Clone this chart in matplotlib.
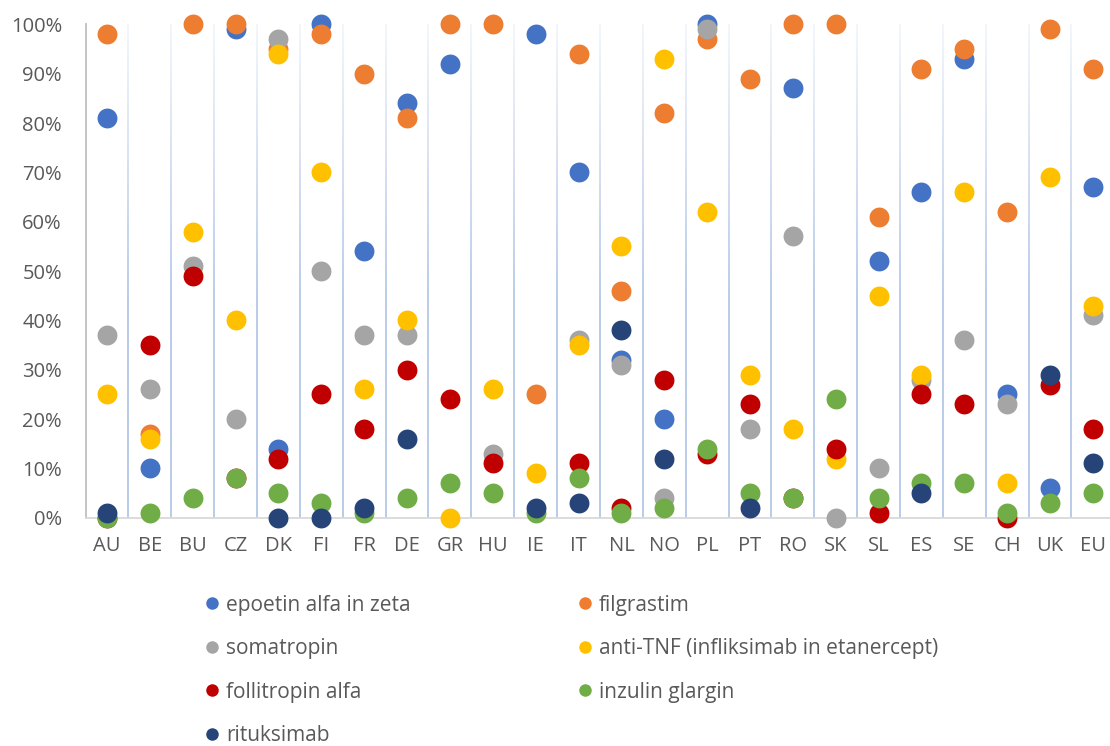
import numpy as np
import matplotlib
matplotlib.use("Agg")
import matplotlib.pyplot as plt
from matplotlib.collections import LineCollection
from matplotlib.lines import Line2D
from matplotlib.colors import to_rgb

plt.rcParams['font.family'] = ['Open Sans', 'DejaVu Sans']

# Delež po državah (v %), NaN = ni podatka
countries = ['AU', 'BE', 'BU', 'CZ', 'DK', 'FI', 'FR', 'DE', 'GR', 'HU', 'IE', 'IT',
             'NL', 'NO', 'PL', 'PT', 'RO', 'SK', 'SL', 'ES', 'SE', 'CH', 'UK', 'EU']
nan = np.nan

epoetin = [81, 10, nan, 99, 14, 100, 54, 84, 92, nan, 98, 70,
           32, 20, 100, nan, 87, nan, 52, 66, 93, 25, 6, 67]
filgrastim = [98, 17, 100, 100, 95, 98, 90, 81, 100, 100, 25, 94,
              46, 82, 97, 89, 100, 100, 61, 91, 95, 62, 99, 91]
somatropin = [37, 26, 51, 20, 97, 50, 37, 37, nan, 13, nan, 36,
              31, 4, 99, 18, 57, 0, 10, 28, 36, 23, nan, 41]
anti_tnf = [25, 16, 58, 40, 94, 70, 26, 40, 0, 26, 9, 35,
            55, 93, 62, 29, 18, 12, 45, 29, 66, 7, 69, 43]
follitropin = [0, 35, 49, 8, 12, 25, 18, 30, 24, 11, nan, 11,
               2, 28, 13, 23, 4, 14, 1, 25, 23, 0, 27, 18]
inzulin = [0, 1, 4, 8, 5, 3, 1, 4, 7, 5, 1, 8,
           1, 2, 14, 5, 4, 24, 4, 7, 7, 1, 3, 5]
rituksimab = [1, nan, nan, nan, 0, 0, 2, 16, nan, nan, 2, 3,
              38, 12, nan, 2, nan, nan, nan, 5, nan, nan, 29, 11]

series = [
    ('epoetin alfa in zeta', epoetin, '#4472C4'),
    ('filgrastim', filgrastim, '#ED7D31'),
    ('somatropin', somatropin, '#A5A5A5'),
    ('anti-TNF (infliksimab in etanercept)', anti_tnf, '#FFC000'),
    ('follitropin alfa', follitropin, '#C00000'),
    ('inzulin glargin', inzulin, '#70AD47'),
    ('rituksimab', rituksimab, '#264478'),
]

fig = plt.figure(figsize=(11.1, 7.46), dpi=100)
ax = fig.add_axes([0.0771, 0.3060, 0.9268, 0.6614])

x = np.arange(len(countries))
ax.set_xlim(-0.5, len(countries) - 0.5)
ax.set_ylim(0, 100)

# navpične mrežne črte med državami, proti vrhu bledijo
light = np.array(to_rgb('#F2F5FB'))
full = np.array(to_rgb('#B4C7E7'))
ys = np.linspace(0, 100, 81)
segs, cols = [], []
for b in x[:-1] + 0.5:
    for y0, y1 in zip(ys[:-1], ys[1:]):
        segs.append([(b, y0), (b, y1)])
        f = np.clip((100 - (y0 + y1) / 2) / 55, 0, 1)
        cols.append(light + (full - light) * f)
ax.add_collection(LineCollection(segs, colors=cols, linewidths=1.3, zorder=1))

handles = []
for i, (name, vals, color) in enumerate(series):
    ax.scatter(x, vals, s=205, color=color, linewidths=0, zorder=3 + i, clip_on=False)
    handles.append(Line2D([], [], linestyle='none', marker='o', markersize=9,
                          markerfacecolor=color, markeredgewidth=0, label=name))

for side in ['top', 'right']:
    ax.spines[side].set_visible(False)
ax.spines['left'].set_color('#BFBFBF')
ax.spines['left'].set_linewidth(1.3)
ax.spines['bottom'].set_color('#D9D9D9')
ax.spines['bottom'].set_linewidth(1.3)
ax.spines['left'].set_zorder(2)
ax.spines['bottom'].set_zorder(2)

ax.set_xticks(x)
ax.set_xticklabels(countries)
ax.set_yticks(np.arange(0, 101, 10))
ax.set_yticklabels([f'{v}%' for v in range(0, 101, 10)])
ax.tick_params(axis='both', length=0, labelsize=14.5, labelcolor='#595959')
ax.tick_params(axis='y', pad=17)
ax.tick_params(axis='x', pad=13)

# legenda v dveh stolpcih, vrstni red po vrsticah
order = [0, 2, 4, 6, 1, 3, 5]
leg = ax.legend([handles[i] for i in order], [handles[i].get_label() for i in order],
                ncol=2, loc='upper left', bbox_to_anchor=(0.1844, 0.2028),
                bbox_transform=fig.transFigure, frameon=False, fontsize=15,
                handlelength=0.7, handletextpad=0.33, columnspacing=8.0,
                labelspacing=1.08, borderpad=0, borderaxespad=0)
for t in leg.get_texts():
    t.set_color('#595959')

fig.savefig('out.png', dpi=100)
